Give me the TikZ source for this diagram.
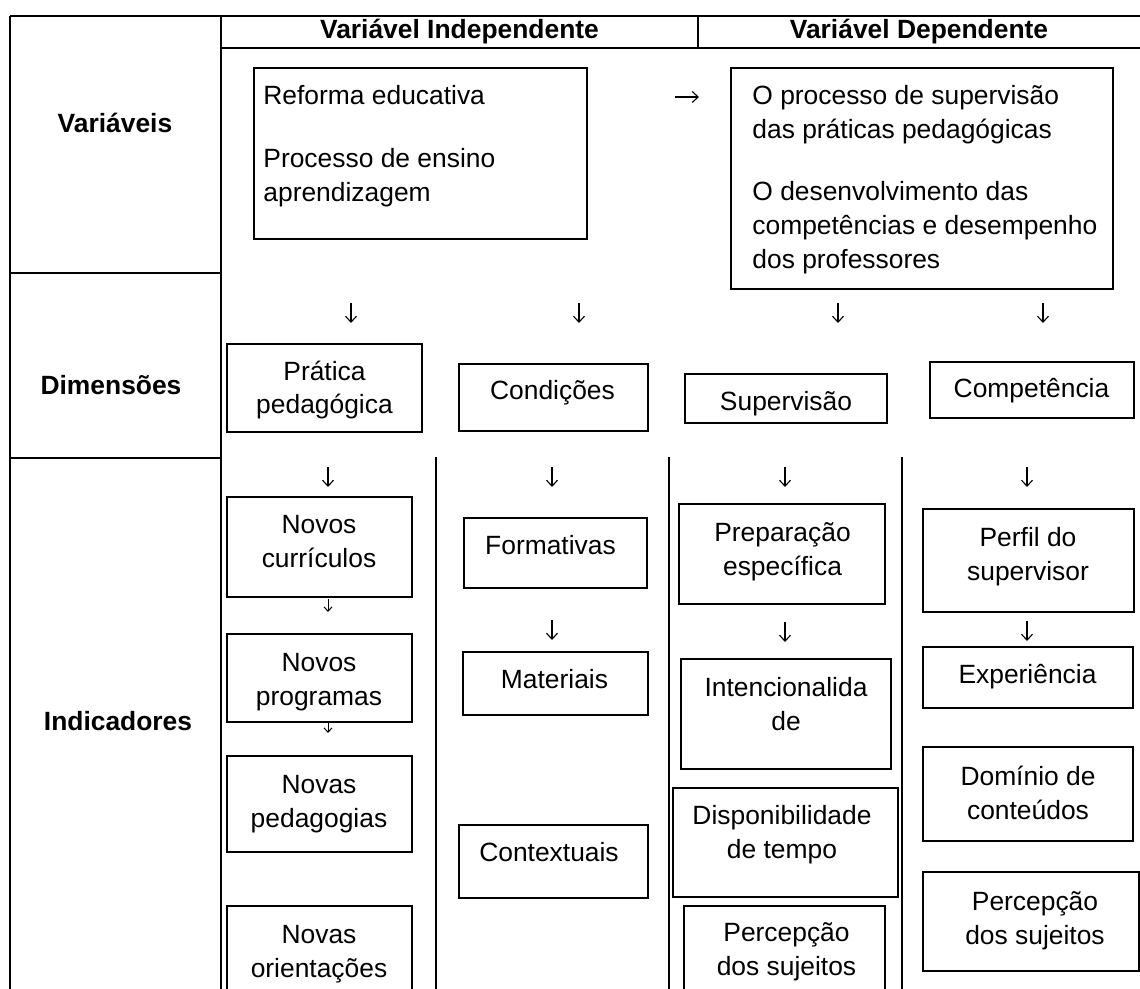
\documentclass[tikz,border=0pt]{standalone}
\usepackage{fontspec}
\setmainfont{Liberation Sans}
\usetikzlibrary{arrows.meta,fit}
\begin{document}
\begin{tikzpicture}[x=0.5pt,y=-0.5pt,
  tbl/.style={line width=1.1pt},
  box/.style={draw, line width=1pt, inner sep=0pt},
  txt/.style={font=\fontsize{13.2}{17}\selectfont, align=center, inner sep=0pt, anchor=base},
  ltxt/.style={font=\fontsize{13.2}{17}\selectfont, align=left, inner sep=0pt, anchor=base west},
  hdr/.style={font=\fontsize{13.2}{17}\selectfont\bfseries, inner sep=0pt, anchor=base},
  arr/.style={line width=0.55pt, -{Straight Barb[length=3pt,width=5.5pt]}},
  sarr/.style={line width=0.5pt, -{Straight Barb[length=2.2pt,width=4pt]}}
]
\useasboundingbox (0,0) rectangle (1140,989);

% ---- table frame ----
\draw[tbl] (10,16) -- (1140,16);
\draw[tbl] (221,48) -- (1140,48);
\draw[tbl] (698,16) -- (698,48);
\draw[tbl] (10,16) -- (10,989);
\draw[tbl] (221,16) -- (221,989);
\draw[tbl] (10,273) -- (221,273);
\draw[tbl] (10,458) -- (221,458);
\draw[tbl] (436,457) -- (436,989);
\draw[tbl] (669,457) -- (669,989);
\draw[tbl] (902,457) -- (902,989);

% ---- headers ----
\node[hdr] (hind) at (459.5,39) {Variável Independente};
\node[hdr] (hdep) at (919,39) {Variável Dependente};
\node[hdr] (rvar) at (115,133) {Variáveis};
\node[hdr] (rdim) at (111,394) {Dimensões};
\node[hdr] (rind) at (118,730) {Indicadores};

% ---- arrows (drawn first) ----
\coordinate (a1s) at (351,303); \coordinate (a1e) at (351,323);
\coordinate (a2s) at (579,303); \coordinate (a2e) at (579,323);
\coordinate (a3s) at (838,303); \coordinate (a3e) at (838,323);
\coordinate (a4s) at (1043,303); \coordinate (a4e) at (1043,323);
\coordinate (b1s) at (328,467); \coordinate (b1e) at (328,487);
\coordinate (b2s) at (552,467); \coordinate (b2e) at (552,487);
\coordinate (b3s) at (785,467); \coordinate (b3e) at (785,487);
\coordinate (b4s) at (1027,467); \coordinate (b4e) at (1027,487);
\coordinate (c1s) at (552,620); \coordinate (c1e) at (552,640);
\coordinate (c2s) at (785,622); \coordinate (c2e) at (785,642);
\coordinate (c3s) at (1027,621); \coordinate (c3e) at (1027,641);
\coordinate (d1s) at (328,599); \coordinate (d1e) at (328,612);
\coordinate (d2s) at (328,722); \coordinate (d2e) at (328,733);
\coordinate (hs) at (675,97); \coordinate (he) at (699,97);
\draw[arr] (a1s) -- (a1e);
\draw[arr] (a2s) -- (a2e);
\draw[arr] (a3s) -- (a3e);
\draw[arr] (a4s) -- (a4e);
\draw[arr] (b1s) -- (b1e);
\draw[arr] (b2s) -- (b2e);
\draw[arr] (b3s) -- (b3e);
\draw[arr] (b4s) -- (b4e);
\draw[arr] (c1s) -- (c1e);
\draw[arr] (c2s) -- (c2e);
\draw[arr] (c3s) -- (c3e);
\draw[sarr] (d1s) -- (d1e);
\draw[sarr] (d2s) -- (d2e);
\draw[arr] (hs) -- (he);

% ---- variable boxes ----
\node[box, fit={(254,68) (587,239)}] (reforma) {};
\node[ltxt] (reforma-t) at (263,202) {Reforma educativa\\[14.5pt]Processo de ensino\\aprendizagem};
\node[box, fit={(731,68) (1113,289)}] (dep) {};
\node[ltxt] (dep-t) at (752,269) {O processo de supervisão\\das práticas pedagógicas\\[14pt]O desenvolvimento das\\competências e desempenho\\dos professores};

% ---- dimension boxes ----
\node[box, fit={(227,344) (422,432)}] (pratica) {};
\node[txt] (pratica-t) at (324.5,414) {Prática\\pedagógica};
\node[box, fit={(459,364) (648,431)}] (cond) {};
\node[txt] (cond-t) at (552.5,400) {Condições};
\node[box, fit={(685,374) (887,423)}] (superv) {};
\node[txt] (superv-t) at (786,410) {Supervisão};
\node[box, fit={(930,362) (1134,418)}] (compet) {};
\node[txt] (compet-t) at (1031.5,398) {Competência};

% ---- indicator boxes: column 1 ----
\node[box, fit={(227,497) (412,597)}] (nc) {};
\node[txt] (nc-t) at (319,567) {Novos\\currículos};
\node[box, fit={(227,634) (412,722)}] (np) {};
\node[txt] (np-t) at (319,705) {Novos\\programas};
\node[box, fit={(227,756) (412,852)}] (npd) {};
\node[txt] (npd-t) at (319,827) {Novas\\pedagogias};
\node[box, fit={(227,906) (412,1000)}] (nor) {};
\node[txt] (nor-t) at (319,977) {Novas\\orientações};

% ---- column 2 ----
\node[box, fit={(464,518) (647,588)}] (form) {};
\node[txt] (form-t) at (550.5,554) {Formativas};
\node[box, fit={(463,652) (648,715)}] (mat) {};
\node[txt] (mat-t) at (554.5,688) {Materiais};
\node[box, fit={(459,825) (648,898)}] (ctx) {};
\node[txt] (ctx-t) at (549,861) {Contextuais};

% ---- column 3 ----
\node[box, fit={(679,504) (885,604)}] (prep) {};
\node[txt] (prep-t) at (782.5,575) {Preparação\\específica};
\node[box, fit={(681,659) (891,769)}] (inten) {};
\node[txt] (inten-t) at (786,730) {Intencionalida\\de};
\node[box, fit={(673,788) (898,897)}] (disp) {};
\node[txt] (disp-t) at (782,858) {Disponibilidade\\de tempo};
\node[box, fit={(684,906) (885,1000)}] (perc3) {};
\node[txt] (perc3-t) at (786.5,975) {Percepção\\dos sujeitos};

% ---- column 4 ----
\node[box, fit={(923,509) (1134,612)}] (perf) {};
\node[txt] (perf-t) at (1028,580) {Perfil do\\supervisor};
\node[box, fit={(923,647) (1133,708)}] (exp) {};
\node[txt] (exp-t) at (1027.5,683) {Experiência};
\node[box, fit={(923,747) (1133,841)}] (dom) {};
\node[txt] (dom-t) at (1028,819) {Domínio de\\conteúdos};
\node[box, fit={(923,872) (1139,971)}] (perc4) {};
\node[txt] (perc4-t) at (1035,944) {Percepção\\dos sujeitos};
\end{tikzpicture}
\end{document}
